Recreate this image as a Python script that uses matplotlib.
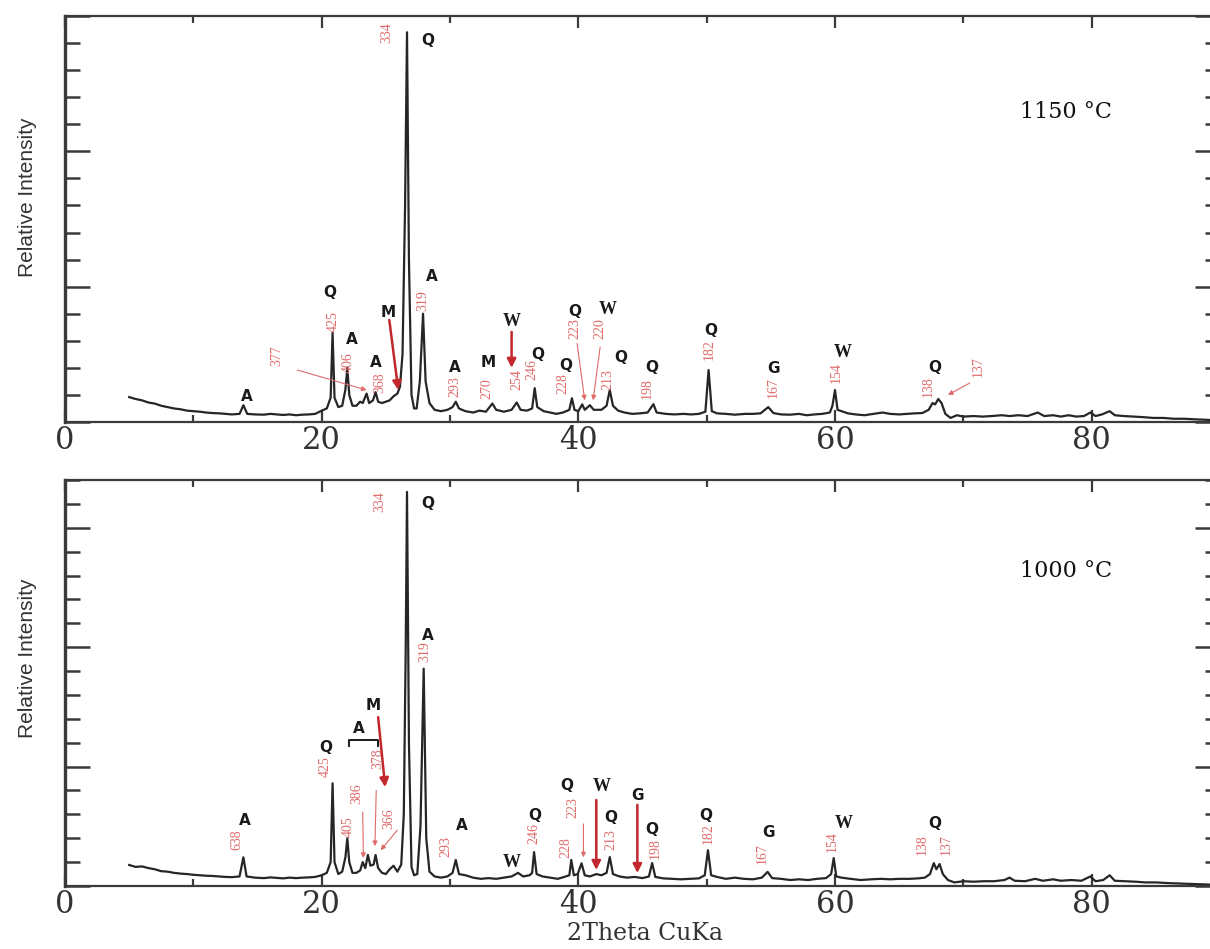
import matplotlib
matplotlib.use("Agg")
import matplotlib.pyplot as plt
from matplotlib.ticker import MultipleLocator, FixedLocator

# ---------------- data (2Theta, relative intensity) ----------------
two_theta_1150 = [5.0, 5.5, 6.0, 6.5, 7.0, 7.5, 8.0, 8.5, 9.0, 9.5, 10.0, 10.5, 11.0, 11.5, 12.0, 12.5,
                  13.0, 13.6, 13.9, 14.2, 14.8, 15.5, 16.0, 16.5, 17.0, 17.5, 18.0, 18.5, 19.0, 19.5,
                  20.0, 20.4, 20.7, 20.85, 21.0, 21.3, 21.6, 21.85, 22.0, 22.15, 22.4, 22.7, 23.0, 23.2,
                  23.5, 23.7, 24.0, 24.2, 24.4, 24.7, 25.0, 25.3, 25.6, 25.9, 26.1, 26.3, 26.5, 26.65,
                  26.8, 27.0, 27.2, 27.4, 27.65, 27.9, 28.1, 28.4, 28.8, 29.3, 29.8, 30.2, 30.45, 30.7,
                  31.2, 31.8, 32.3, 32.8, 33.3, 33.6, 34.2, 34.8, 35.2, 35.5, 36.0, 36.4, 36.6, 36.8,
                  37.3, 37.8, 38.3, 38.8, 39.3, 39.5, 39.7, 40.0, 40.3, 40.5, 40.9, 41.2, 41.8, 42.2,
                  42.45, 42.7, 43.1, 43.6, 44.2, 44.8, 45.4, 45.85, 46.1, 46.8, 47.5, 48.2, 48.8, 49.4,
                  49.9, 50.15, 50.4, 50.8, 51.5, 52.2, 53.0, 53.6, 54.2, 54.8, 55.2, 55.8, 56.5, 57.2,
                  57.8, 58.4, 59.0, 59.6, 59.8, 60.0, 60.2, 60.5, 61.0, 61.6, 62.3, 63.0, 63.7, 64.3,
                  65.0, 65.6, 66.2, 66.8, 67.3, 67.6, 67.8, 68.05, 68.3, 68.6, 69.0, 69.5, 70.0, 70.8,
                  71.5, 72.2, 73.0, 73.6, 74.3, 75.0, 75.8, 76.3, 77.0, 77.6, 78.2, 78.8, 79.4, 79.9,
                  80.3, 80.8, 81.4, 81.8, 82.5, 83.2, 84.0, 84.8, 85.6, 86.4, 87.2, 88.0, 89.0, 90.0]
intensity_1150 = [0.92, 0.85, 0.80, 0.72, 0.68, 0.60, 0.55, 0.50, 0.47, 0.42, 0.40, 0.38, 0.35, 0.33, 0.32, 0.30,
                  0.28, 0.30, 0.62, 0.30, 0.28, 0.27, 0.30, 0.28, 0.26, 0.28, 0.25, 0.27, 0.28, 0.30,
                  0.42, 0.50, 0.90, 3.30, 0.90, 0.55, 0.60, 1.20, 2.00, 1.00, 0.60, 0.60, 0.75, 0.70,
                  1.05, 0.70, 0.80, 1.10, 0.75, 0.70, 0.75, 0.80, 0.95, 1.05, 1.30, 2.50, 8.00, 14.40,
                  6.00, 1.00, 0.50, 0.50, 1.50, 4.00, 1.50, 0.70, 0.45, 0.40, 0.45, 0.55, 0.75, 0.50,
                  0.40, 0.35, 0.42, 0.38, 0.68, 0.45, 0.38, 0.45, 0.72, 0.45, 0.42, 0.50, 1.25, 0.55,
                  0.40, 0.35, 0.30, 0.35, 0.45, 0.88, 0.45, 0.40, 0.65, 0.45, 0.62, 0.45, 0.45, 0.60,
                  1.18, 0.60, 0.42, 0.35, 0.30, 0.32, 0.35, 0.66, 0.35, 0.30, 0.28, 0.30, 0.28, 0.30,
                  0.38, 1.92, 0.40, 0.32, 0.30, 0.27, 0.30, 0.30, 0.32, 0.55, 0.33, 0.28, 0.27, 0.30,
                  0.25, 0.28, 0.30, 0.35, 0.60, 1.18, 0.45, 0.40, 0.32, 0.28, 0.25, 0.30, 0.35, 0.30,
                  0.28, 0.30, 0.32, 0.33, 0.45, 0.70, 0.65, 0.85, 0.70, 0.30, 0.15, 0.25, 0.20, 0.22,
                  0.20, 0.22, 0.25, 0.22, 0.25, 0.22, 0.35, 0.22, 0.25, 0.20, 0.25, 0.20, 0.22, 0.35,
                  0.22, 0.28, 0.40, 0.25, 0.22, 0.20, 0.18, 0.15, 0.15, 0.12, 0.12, 0.10, 0.08, 0.06]

two_theta_1000 = [5.0, 5.5, 6.0, 6.5, 7.0, 7.5, 8.0, 8.5, 9.0, 9.5, 10.0, 10.5, 11.0, 11.5, 12.0, 12.5,
                  13.0, 13.6, 13.9, 14.15, 14.8, 15.5, 16.0, 16.5, 17.0, 17.5, 18.0, 18.5, 19.0, 19.5,
                  20.0, 20.4, 20.7, 20.85, 21.0, 21.3, 21.6, 21.85, 22.0, 22.15, 22.4, 22.7, 23.0, 23.2,
                  23.4, 23.6, 23.8, 24.05, 24.2, 24.4, 24.7, 25.0, 25.3, 25.6, 25.9, 26.2, 26.4, 26.55,
                  26.65, 26.8, 27.0, 27.2, 27.45, 27.7, 27.95, 28.15, 28.4, 28.8, 29.3, 29.8, 30.2, 30.45,
                  30.7, 31.2, 31.8, 32.4, 33.0, 33.6, 34.2, 34.8, 35.3, 35.7, 36.2, 36.4, 36.55, 36.75,
                  37.2, 37.8, 38.4, 38.9, 39.3, 39.45, 39.65, 39.95, 40.25, 40.5, 40.9, 41.4, 41.8, 42.2,
                  42.45, 42.7, 43.2, 43.8, 44.4, 45.0, 45.5, 45.75, 46.0, 46.6, 47.3, 48.0, 48.7, 49.4,
                  49.85, 50.1, 50.35, 50.8, 51.5, 52.2, 52.9, 53.6, 54.3, 54.75, 55.1, 55.8, 56.5, 57.2,
                  57.9, 58.6, 59.3, 59.7, 59.9, 60.1, 60.5, 61.2, 62.0, 62.8, 63.6, 64.3, 65.0, 65.8,
                  66.5, 67.0, 67.4, 67.7, 67.9, 68.15, 68.4, 68.8, 69.3, 70.0, 70.8, 71.6, 72.4, 73.2,
                  73.6, 74.0, 74.8, 75.6, 76.2, 77.0, 77.6, 78.4, 79.2, 79.9, 80.3, 80.9, 81.4, 81.8,
                  82.6, 83.4, 84.2, 85.0, 86.0, 87.0, 88.0, 89.0, 90.0]
intensity_1000 = [0.88, 0.80, 0.82, 0.75, 0.70, 0.62, 0.60, 0.55, 0.52, 0.50, 0.47, 0.45, 0.43, 0.42, 0.40, 0.38,
                  0.37, 0.40, 1.20, 0.40, 0.35, 0.33, 0.36, 0.34, 0.32, 0.35, 0.33, 0.35, 0.36, 0.38,
                  0.45, 0.55, 1.00, 4.30, 1.00, 0.50, 0.60, 1.20, 2.00, 1.00, 0.55, 0.55, 0.65, 1.00,
                  0.75, 1.30, 0.85, 0.90, 1.30, 0.75, 0.55, 0.50, 0.70, 0.85, 0.60, 0.90, 3.00, 10.00,
                  16.50, 6.00, 0.80, 0.45, 0.50, 2.50, 9.10, 2.00, 0.60, 0.40, 0.35, 0.40, 0.55, 1.09,
                  0.50, 0.45, 0.35, 0.30, 0.33, 0.30, 0.35, 0.40, 0.55, 0.40, 0.45, 0.55, 1.42, 0.50,
                  0.40, 0.35, 0.30, 0.38, 0.45, 1.09, 0.45, 0.50, 0.95, 0.45, 0.40, 0.50, 0.45, 0.55,
                  1.21, 0.50, 0.40, 0.35, 0.38, 0.33, 0.40, 0.96, 0.38, 0.32, 0.30, 0.28, 0.30, 0.32,
                  0.45, 1.50, 0.45, 0.38, 0.30, 0.35, 0.30, 0.28, 0.35, 0.59, 0.33, 0.30, 0.25, 0.28,
                  0.25, 0.30, 0.33, 0.50, 1.17, 0.40, 0.35, 0.30, 0.25, 0.28, 0.30, 0.28, 0.30, 0.30,
                  0.32, 0.35, 0.50, 0.96, 0.70, 0.92, 0.50, 0.25, 0.15, 0.20, 0.18, 0.20, 0.20, 0.25,
                  0.35, 0.22, 0.20, 0.30, 0.22, 0.28, 0.22, 0.25, 0.22, 0.40, 0.20, 0.25, 0.45, 0.22,
                  0.20, 0.18, 0.15, 0.15, 0.12, 0.10, 0.08, 0.06, 0.05]

x_tick_labels = ["0", "20", "40", "60", "80"]
temperatures = ["1150 \u00b0C", "1000 \u00b0C"]

# phase letters: (letter, 2theta, height)
letters_1150 = [("A", 14.2, 0.96), ("Q", 20.65, 4.8), ("A", 22.35, 3.06), ("A", 24.2, 2.2),
                ("M", 25.2, 4.06), ("Q", 28.3, 14.1), ("A", 28.6, 5.37), ("A", 30.4, 2.0),
                ("M", 33.0, 2.2), ("W", 34.8, 3.7), ("Q", 36.8, 2.5), ("Q", 39.0, 2.1),
                ("Q", 39.75, 4.1), ("W", 42.3, 4.14), ("Q", 43.3, 2.4), ("Q", 45.75, 2.0),
                ("Q", 50.3, 3.37), ("G", 55.2, 1.97), ("W", 60.6, 2.55), ("Q", 67.8, 2.03)]
dvals_1150 = [("425", 20.9, 3.7), ("406", 22.1, 2.2), ("368", 24.55, 1.45), ("377", 16.5, 2.45),
              ("334", 25.1, 14.4), ("319", 27.9, 4.5), ("293", 30.4, 1.3), ("270", 32.9, 1.25),
              ("254", 35.2, 1.55), ("246", 36.4, 1.92), ("228", 38.8, 1.42), ("223", 39.75, 3.45),
              ("220", 41.7, 3.45), ("213", 42.3, 1.55), ("198", 45.4, 1.22), ("182", 50.2, 2.66),
              ("167", 55.2, 1.28), ("154", 60.1, 1.81), ("138", 67.3, 1.3), ("137", 71.2, 2.03)]
letters_1000 = [("A", 14.0, 2.76), ("Q", 20.3, 5.8), ("A", 22.9, 6.6), ("M", 24.0, 7.57),
                ("Q", 28.3, 16.0), ("A", 28.3, 10.5), ("A", 30.9, 2.55), ("W", 34.8, 1.0),
                ("Q", 36.6, 2.95), ("Q", 39.1, 4.2), ("W", 41.85, 4.15), ("Q", 42.5, 2.85),
                ("G", 44.6, 3.8), ("Q", 45.75, 2.35), ("Q", 49.9, 2.95), ("G", 54.8, 2.25),
                ("W", 60.65, 2.63), ("Q", 67.8, 2.63)]
dvals_1000 = [("638", 13.4, 1.92), ("425", 20.3, 5.0), ("405", 22.1, 2.5), ("386", 22.75, 3.85),
              ("378", 24.4, 5.35), ("366", 25.2, 2.8), ("334", 24.55, 16.1), ("319", 28.05, 9.8),
              ("293", 29.7, 1.64), ("246", 36.5, 2.2), ("228", 39.0, 1.6), ("223", 39.6, 3.27),
              ("213", 42.5, 1.95), ("198", 46.0, 1.55), ("182", 50.1, 2.2), ("167", 54.3, 1.35),
              ("154", 59.8, 1.84), ("138", 66.8, 1.72), ("137", 68.7, 1.72)]

# arrows: (x_from, y_from, x_to, y_to, thick)
arrows_1150 = [(18.1, 1.92, 23.5, 1.18, False), (25.27, 3.77, 25.97, 1.18, True),
               (34.8, 3.33, 34.8, 2.0, True), (39.9, 2.9, 40.5, 0.8, False),
               (41.7, 2.77, 41.15, 0.8, False), (70.5, 1.44, 68.8, 1.0, False)]
arrows_1000 = [(24.4, 7.07, 24.95, 4.14, True), (23.2, 3.1, 23.25, 1.17, False),
               (24.25, 4.0, 24.15, 1.67, False), (25.9, 2.34, 24.6, 1.5, False),
               (40.4, 2.6, 40.4, 1.2, False), (41.4, 3.6, 41.4, 0.67, True),
               (44.6, 3.4, 44.6, 0.54, True)]

# ---------------- figure ----------------
W, H = 1210, 949
fig = plt.figure(figsize=(W / 100, H / 100), dpi=100)

def frac_box(left, top, right, bottom):
    return [left / W, 1 - bottom / H, (right - left) / W, (bottom - top) / H]

ax1 = fig.add_axes(frac_box(65, 16, 1220, 422))
ax2 = fig.add_axes(frac_box(65, 480, 1220, 886))

LINE = "#262626"
SPINE = "#3a3a3a"
RED = "#e06a6a"
DARKRED = "#c1272d"

panels = [
    (ax1, two_theta_1150, intensity_1150, 15, letters_1150, dvals_1150, arrows_1150, temperatures[0], 11.45),
    (ax2, two_theta_1000, intensity_1000, 17, letters_1000, dvals_1000, arrows_1000, temperatures[1], 13.2),
]

for ax, xs, ys, ymax, letters, dvals, arrows, temp, ty in panels:
    ax.plot(xs, ys, color=LINE, lw=1.6, solid_joinstyle="round")
    ax.set_xlim(0, 90)
    ax.set_ylim(0, ymax)
    for side in ["left", "right", "top", "bottom"]:
        ax.spines[side].set_color(SPINE)
    ax.spines["left"].set_linewidth(2.4)
    ax.spines["right"].set_linewidth(2.0)
    ax.spines["top"].set_linewidth(1.6)
    ax.spines["bottom"].set_linewidth(1.6)

    ax.xaxis.set_major_locator(FixedLocator([0, 20, 40, 60, 80]))
    ax.xaxis.set_minor_locator(FixedLocator([10, 30, 50, 70]))
    ax.set_xticklabels(x_tick_labels)
    ax.yaxis.set_major_locator(MultipleLocator(5))
    ax.yaxis.set_minor_locator(MultipleLocator(1))
    ax.tick_params(axis="x", which="both", direction="in", top=True, bottom=True,
                   color=SPINE, width=1.6)
    ax.tick_params(axis="x", which="major", length=8.5, pad=2,
                   labelsize=22, labelcolor="#333333")
    ax.tick_params(axis="x", which="minor", length=5)
    ax.tick_params(axis="y", which="both", direction="in", left=True, right=True,
                   labelleft=False, color=SPINE, width=1.8)
    ax.tick_params(axis="y", which="major", length=18)
    ax.tick_params(axis="y", which="minor", length=11)
    for lab in ax.get_xticklabels():
        lab.set_fontfamily("DejaVu Serif")

    for txt, x, y in letters:
        if txt == "W":
            ax.text(x, y, txt, ha="center", va="center", fontsize=13, fontweight="bold",
                    family="Liberation Serif", color="#1a1a1a")
        else:
            ax.text(x, y, txt, ha="center", va="center", fontsize=11, fontweight="bold",
                    family="DejaVu Sans", color="#1a1a1a")
    for txt, x, y in dvals:
        ax.text(x, y, txt, ha="center", va="center", rotation=90, fontsize=10,
                family="Liberation Serif", color=RED)
    for x0, y0, x1, y1, thick in arrows:
        if thick:
            ax.annotate("", xy=(x1, y1), xytext=(x0, y0),
                        arrowprops=dict(arrowstyle="-|>", color=DARKRED, lw=1.8,
                                        mutation_scale=13, shrinkA=0, shrinkB=0))
        else:
            ax.annotate("", xy=(x1, y1), xytext=(x0, y0),
                        arrowprops=dict(arrowstyle="-|>", color=RED, lw=0.8,
                                        mutation_scale=7, shrinkA=0, shrinkB=0))
    ax.text(78.0, ty, temp, ha="center", va="center", fontsize=16,
            family="DejaVu Serif", color="#111111")

# bracket over the 3.86/3.78 anorthite pair (1000 C panel)
ax2.plot([22.1, 22.1, 24.4, 24.4], [5.85, 6.1, 6.1, 5.85], color="#1a1a1a", lw=1.4)

# axis labels
for yc in (197, 658):
    fig.text(28 / W, 1 - yc / H, "Relative Intensity", rotation=90, ha="center", va="center",
             fontsize=15, family="Liberation Sans", color="#333333")
fig.text(645 / W, 1 - 934 / H, "2Theta CuKa", ha="center", va="center", fontsize=17,
         family="DejaVu Serif", color="#333333")

fig.savefig("out.png", dpi=100)
